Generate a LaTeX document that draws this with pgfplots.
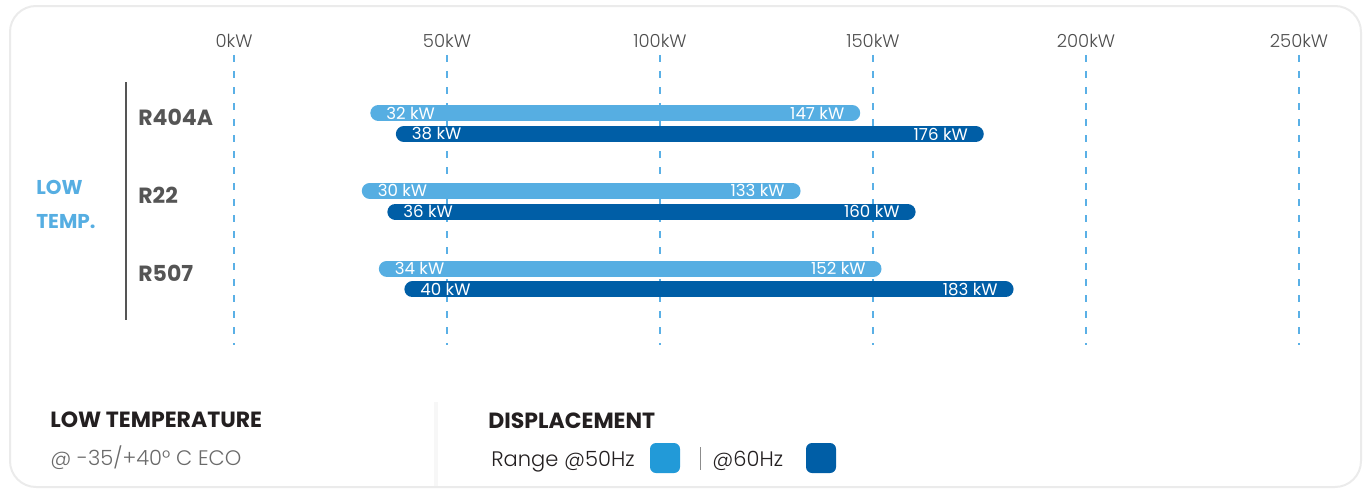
\documentclass[border=0pt]{standalone}
\usepackage{pgfplots}
\pgfplotsset{compat=1.18}
\usepackage{fontspec}
\setmainfont{Poppins}
\newfontfamily\lightfont{Poppins Light}

\definecolor{hzfifty}{HTML}{56AEE2}
\definecolor{hzsixty}{HTML}{005EA6}
\definecolor{gridblue}{HTML}{5AB0E6}
\definecolor{keyfifty}{HTML}{229AD8}
\definecolor{ticktext}{HTML}{4D4D4D}
\definecolor{reftext}{HTML}{555555}
\definecolor{darktext}{HTML}{231F20}
\definecolor{subtext}{HTML}{6A6A6A}

\tikzset{
  kwbar/.style={line width=8pt, line cap=round, shorten <=4pt, shorten >=4pt},
  kwlabel/.style={font=\fontsize{8.3}{9}\selectfont, text=white, inner xsep=4pt, inner ysep=0pt}
}

\begin{document}
\begin{tikzpicture}
\path[use as bounding box] (0,0) rectangle (685pt,244.5pt);

% frame and side texts, in pixel units of the reference
\begin{scope}[x=0.5pt, y=-0.5pt, shift={(0,244.5pt)}]
  \draw[line width=1pt, color=black!8, rounded corners=13pt] (10,6) rectangle (1361,487);
  \draw[line width=2pt, color=black!3] (436,402) -- (436,486);
  \draw[line width=0.75pt, color=reftext] (126,82) -- (126,320);
  \node[anchor=base west, inner sep=0, text=hzfifty, font=\bfseries\fontsize{10}{12}\selectfont] at (36,194) {LOW};
  \node[anchor=base west, inner sep=0, text=hzfifty, font=\bfseries\fontsize{10}{12}\selectfont] at (36,228) {TEMP.};
  \node[anchor=base west, inner sep=0, text=darktext, font=\bfseries\fontsize{11}{13}\selectfont] at (50,427) {LOW TEMPERATURE};
  \node[anchor=base west, inner sep=0, text=subtext, font=\lightfont\fontsize{10.5}{12}\selectfont] at (50,465) {@ -35/+40° C ECO};
  \node[anchor=base west, inner sep=0, text=darktext, font=\bfseries\fontsize{11}{13}\selectfont] at (488,428) {DISPLACEMENT};
  \node[anchor=base west, inner sep=0, text=darktext, font=\lightfont\fontsize{10.5}{12}\selectfont] at (491,466) {Range @50Hz};
  \fill[keyfifty, rounded corners=3pt] (650,443) rectangle (680,473);
  \draw[line width=0.5pt, color=black!45] (700,447) -- (700,470);
  \node[anchor=base west, inner sep=0, text=darktext, font=\lightfont\fontsize{10.5}{12}\selectfont] at (712,466) {@60Hz};
  \fill[hzsixty, rounded corners=3pt] (806,443) rectangle (836,473);
\end{scope}

\begin{axis}[
    at={(117pt,72pt)}, anchor=south west,
    scale only axis, width=532.5pt, height=145pt,
    xmin=0, xmax=250,
    ymin=0.119, ymax=3.849, y dir=reverse,
    axis line style={draw=none},
    major tick length=0pt,
    xtick={0,50,100,150,200,250},
    xticklabels={0kW,50kW,100kW,150kW,200kW,250kW},
    xticklabel pos=upper,
    xticklabel style={anchor=south, text=ticktext, font=\lightfont\fontsize{9}{10}\selectfont},
    xmajorgrids,
    grid style={gridblue, line width=0.75pt, dash pattern=on 3.5pt off 4.5pt},
    ytick={1,2,3},
    yticklabels={R404A,R22,R507},
    yticklabel style={anchor=base west, inner xsep=0pt, xshift=-48pt, yshift=-1pt,
                      text=reftext, font=\bfseries\fontsize{11}{13}\selectfont},
    clip=false,
]
% R404A
\addplot[kwbar, hzfifty] coordinates {(32,0.865) (147,0.865)}
  node[pos=0, anchor=west, kwlabel] {32 kW} node[pos=1, anchor=east, kwlabel] {147 kW};
\addplot[kwbar, hzsixty] coordinates {(38,1.135) (176,1.135)}
  node[pos=0, anchor=west, kwlabel] {38 kW} node[pos=1, anchor=east, kwlabel] {176 kW};
% R22
\addplot[kwbar, hzfifty] coordinates {(30,1.865) (133,1.865)}
  node[pos=0, anchor=west, kwlabel] {30 kW} node[pos=1, anchor=east, kwlabel] {133 kW};
\addplot[kwbar, hzsixty] coordinates {(36,2.135) (160,2.135)}
  node[pos=0, anchor=west, kwlabel] {36 kW} node[pos=1, anchor=east, kwlabel] {160 kW};
% R507
\addplot[kwbar, hzfifty] coordinates {(34,2.865) (152,2.865)}
  node[pos=0, anchor=west, kwlabel] {34 kW} node[pos=1, anchor=east, kwlabel] {152 kW};
\addplot[kwbar, hzsixty] coordinates {(40,3.135) (183,3.135)}
  node[pos=0, anchor=west, kwlabel] {40 kW} node[pos=1, anchor=east, kwlabel] {183 kW};
\end{axis}
\end{tikzpicture}
\end{document}
